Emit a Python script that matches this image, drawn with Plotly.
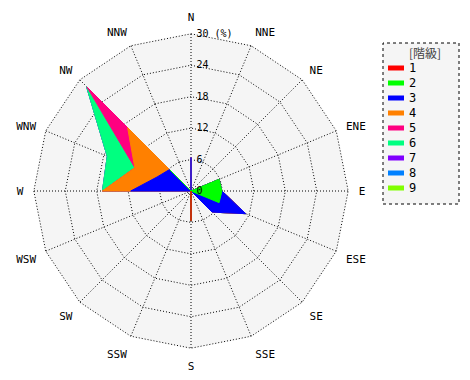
import numpy as np
import plotly.graph_objects as go

directions = ["N", "NNE", "NE", "ENE", "E", "ESE", "SE", "SSE",
              "S", "SSW", "SW", "WSW", "W", "WNW", "NW", "NNW"]
class_names = ["1", "2", "3", "4", "5", "6", "7", "8", "9"]
class_colors = ["#ff0000", "#00ff00", "#0000ff", "#ff8000", "#ff0080",
                "#00ff80", "#8000ff", "#0080ff", "#80ff00"]

#            N    NNE  NE   ENE  E    ESE  SE   SSE  S    SSW  SW   WSW  W     WNW  NW    NNW
class1 = [0,   0,   0,   0,   0,   0,   0,   0,   5.7, 0,   0,   0,   0,    0,   0,    0]
class2 = [0,   0,   0,   5.8, 5.9, 5.8, 0,   0,   0,   0,   0,   0,   0,    0,   5.7,  0]
class3 = [6.4, 0,   0,   0,   0,   5.5, 5.7, 0,   0,   0,   0,   0,   11.5, 7.0, 0.1,  0]
class4 = [0,   0,   0,   0,   0,   0,   0,   0,   0,   0,   0,   0,   5.4,  4.6, 11.3, 0]
class5 = [0,   0,   0,   0,   0,   0,   0,   0,   0,   0,   0,   0,   0,    0,   11.0, 0]
class6 = [0,   0,   0,   0,   0,   0,   0,   0,   0,   0,   0,   0,   0,    5.7, 0.1,  0]
class7 = [0] * 16
class8 = [0] * 16
class9 = [0] * 16

classes = [class1, class2, class3, class4, class5, class6, class7, class8, class9]
cum = np.cumsum(np.array(classes, dtype=float), axis=0)

radial_ticks = [0, 6, 12, 18, 24, 30]
radial_text = ["0", "6", "12", "18", "24", "30 (%)"]
legend_title = "[階級]"

font_family = "DejaVu Sans Mono"
W, H = 470, 380
dot = "1px,2px"

fig = go.Figure()
theta_closed = directions + [directions[0]]
for k in range(len(classes) - 1, -1, -1):
    r = list(cum[k]) + [cum[k][0]]
    fig.add_trace(go.Scatterpolar(
        r=r, theta=theta_closed, mode="lines", fill="toself",
        fillcolor=class_colors[k], line=dict(color=class_colors[k], width=1),
        name=class_names[k], hoverinfo="skip", showlegend=False,
    ))

# outer dotted boundary ring at the top radial tick
fig.add_trace(go.Scatterpolar(
    r=[radial_ticks[-1]] * len(theta_closed), theta=theta_closed, mode="lines",
    line=dict(color="black", width=1, dash=dot),
    hoverinfo="skip", showlegend=False,
))

def px(x):
    return x / W

def py(y):
    return 1 - y / H

shapes = [dict(
    type="rect", xref="paper", yref="paper",
    x0=px(375), x1=px(451), y0=py(196), y1=py(35),
    line=dict(color="black", width=1, dash="dot"),
    fillcolor="#f5f5f5", layer="below",
)]
annotations = [dict(
    text=legend_title, x=px(417), y=py(44), xref="paper", yref="paper",
    showarrow=False, xanchor="center", yanchor="middle",
    font=dict(size=12, family="Noto Sans CJK JP", color="#444444"),
)]
for i, (name, color) in enumerate(zip(class_names, class_colors)):
    yc = 60 + 15 * i
    shapes.append(dict(
        type="rect", xref="paper", yref="paper",
        x0=px(380), x1=px(396), y0=py(yc + 2.5), y1=py(yc - 2.5),
        line=dict(width=0), fillcolor=color, layer="above",
    ))
    annotations.append(dict(
        text=name, x=px(399), y=py(yc), xref="paper", yref="paper",
        showarrow=False, xanchor="left", yanchor="middle",
        font=dict(size=12, family=font_family, color="black"),
    ))

fig.update_layout(
    width=W, height=H,
    margin=dict(l=0, r=0, t=0, b=0),
    paper_bgcolor="white",
    font=dict(family=font_family, size=11, color="black"),
    showlegend=False,
    polar=dict(
        domain=dict(x=[25 / W, 341 / W], y=[39 / H, 355 / H]),
        bgcolor="#f5f5f5",
        gridshape="linear",
        radialaxis=dict(
            range=[0, 30.15], tickvals=radial_ticks, ticktext=radial_text,
            angle=90, tickangle=90, side="clockwise",
            showline=False, ticks="outside", ticklen=3,
            tickcolor="rgba(0,0,0,0)",
            gridcolor="black", griddash=dot, gridwidth=1,
            tickfont=dict(size=10, family=font_family),
            layer="above traces",
        ),
        angularaxis=dict(
            direction="clockwise", rotation=90, type="category",
            categoryarray=directions,
            showline=False, ticks="outside", ticklen=7,
            tickcolor="rgba(0,0,0,0)",
            gridcolor="black", griddash=dot, gridwidth=1,
            tickfont=dict(size=11, family=font_family),
            layer="above traces",
        ),
    ),
    shapes=shapes,
    annotations=annotations,
)

fig.write_html("out.html")
